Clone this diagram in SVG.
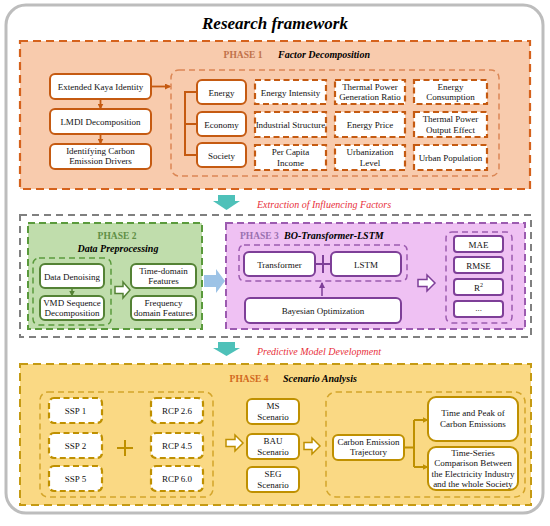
<svg xmlns="http://www.w3.org/2000/svg" width="550" height="526" viewBox="0 0 550 526">
<defs>
<style>
text{font-family:"Liberation Serif","Times New Roman",serif;}
.t{font-size:9px;text-anchor:middle;fill:#111;}
.ph{font-size:9.5px;font-weight:bold;}
.sub{font-size:10px;font-weight:bold;font-style:italic;fill:#000;}
.lbl{font-size:10px;font-style:italic;fill:#E8303A;}
.ob{fill:#fff;stroke:#C55A11;stroke-width:2;}
.od{fill:#fff;stroke:#C55A11;stroke-width:2.2;stroke-dasharray:6 3.5;}
.gb{fill:#fff;stroke:#548235;stroke-width:2;}
.pb{fill:#fff;stroke:#7E3F98;stroke-width:2;}
.yb{fill:#fff;stroke:#BF9000;stroke-width:2;}
.yd{fill:#fff;stroke:#BF9000;stroke-width:2.2;stroke-dasharray:6 3.5;}
.hollow{stroke-width:1.5;fill:#fff;}
.teal{fill:#4EC1B9;}
</style>
<marker id="ao" markerWidth="6" markerHeight="6" refX="5" refY="3" orient="auto" markerUnits="userSpaceOnUse"><path d="M0,0 L6,3 L0,6 z" fill="#C55A11"/></marker>
<marker id="ag" markerWidth="6" markerHeight="6" refX="5" refY="3" orient="auto" markerUnits="userSpaceOnUse"><path d="M0,0 L6,3 L0,6 z" fill="#548235"/></marker>
<marker id="ap" markerWidth="6" markerHeight="6" refX="5" refY="3" orient="auto" markerUnits="userSpaceOnUse"><path d="M0,0 L6,3 L0,6 z" fill="#7E3F98"/></marker>
<marker id="ay" markerWidth="6" markerHeight="6" refX="5" refY="3" orient="auto" markerUnits="userSpaceOnUse"><path d="M0,0 L6,3 L0,6 z" fill="#BF9000"/></marker>
</defs>

<rect x="6" y="5" width="537" height="508" rx="20" fill="#fff" stroke="#BDBDBD" stroke-width="3"/>
<text x="275" y="29" text-anchor="middle" font-size="17" font-weight="bold" font-style="italic" fill="#000">Research framework</text>

<!-- PHASE 1 -->
<g id="phase1">
<rect x="20" y="41" width="510" height="148" fill="#F8CBAD" stroke="#D5621C" stroke-width="2.2" stroke-dasharray="8 5"/>
<text x="243" y="58" class="ph" text-anchor="middle" fill="#C0714A">PHASE 1</text>
<text x="278" y="58" class="sub">Factor Decomposition</text>
<rect x="171" y="70" width="328" height="106" rx="8" fill="none" stroke="#DB8755" stroke-width="1.5" stroke-dasharray="6 4"/>
</g>
<g id="kaya"><rect class="ob" x="50" y="74" width="101" height="25" rx="5"/><text class="t" x="100.5" y="90">Extended Kaya Identity</text></g>
<g id="lmdi"><rect class="ob" x="50" y="109" width="101" height="25" rx="5"/><text class="t" x="100.5" y="125">LMDI Decomposition</text></g>
<g id="drivers"><rect class="ob" x="50" y="144" width="101" height="25" rx="5"/><text class="t" x="100.5" y="153.5">Identifying Carbon</text><text class="t" x="100.5" y="164">Emission Drivers</text></g>
<g id="energy"><rect class="ob" x="197" y="80" width="49" height="24" rx="5"/><text class="t" x="221.5" y="95.5">Energy</text></g>
<g id="economy"><rect class="ob" x="197" y="112" width="49" height="24" rx="5"/><text class="t" x="221.5" y="127.5">Economy</text></g>
<g id="society"><rect class="ob" x="197" y="143" width="49" height="24" rx="5"/><text class="t" x="221.5" y="158.5">Society</text></g>
<g id="f-energy-intensity"><rect class="od" x="255" y="80" width="71" height="24"/><text class="t" x="290.5" y="95.5">Energy Intensity</text></g>
<g id="f-thermal-ratio"><rect class="od" x="335" y="80" width="70" height="24"/><text class="t" x="370" y="89.5">Thermal Power</text><text class="t" x="370" y="100">Generation Ratio</text></g>
<g id="f-energy-consumption"><rect class="od" x="414" y="80" width="73" height="24"/><text class="t" x="450.5" y="89.5">Energy</text><text class="t" x="450.5" y="100">Consumption</text></g>
<g id="f-industrial"><rect class="od" x="255" y="112" width="71" height="25"/><text class="t" x="290.5" y="128">Industrial Structure</text></g>
<g id="f-energy-price"><rect class="od" x="335" y="112" width="70" height="25"/><text class="t" x="370" y="128">Energy Price</text></g>
<g id="f-thermal-output"><rect class="od" x="414" y="112" width="73" height="25"/><text class="t" x="450.5" y="122">Thermal Power</text><text class="t" x="450.5" y="132.5">Output Effect</text></g>
<g id="f-income"><rect class="od" x="255" y="145" width="71" height="25"/><text class="t" x="290.5" y="155">Per Capita</text><text class="t" x="290.5" y="165.5">Income</text></g>
<g id="f-urbanization"><rect class="od" x="335" y="145" width="70" height="25"/><text class="t" x="370" y="155">Urbanization</text><text class="t" x="370" y="165.5">Level</text></g>
<g id="f-urban-pop"><rect class="od" x="414" y="145" width="73" height="25"/><text class="t" x="450.5" y="161">Urban Population</text></g>

<!-- transition 1 -->
<g id="trans1">
<polygon class="teal" points="218,195 235,195 235,201 240,201 226.5,210 213,201 218,201"/>
<text class="lbl" x="257" y="208">Extraction of Influencing Factors</text>
</g>

<!-- middle block -->
<g id="model-block"><rect x="20" y="215" width="511" height="122" fill="none" stroke="#808080" stroke-width="2" stroke-dasharray="7 5"/></g>

<g id="phase2">
<rect x="28" y="223" width="174" height="106" fill="#C0DDAC" stroke="#5A9A3C" stroke-width="2" stroke-dasharray="7 4"/>
<text x="117" y="239" class="ph" text-anchor="middle" fill="#5F8F45">PHASE 2</text>
<text x="118" y="252" class="sub" text-anchor="middle">Data Preprocessing</text>
<rect x="33" y="258" width="78" height="67" rx="6" fill="none" stroke="#5A9A3C" stroke-width="1.5" stroke-dasharray="6 4"/>
</g>
<g id="denoise"><rect class="gb" x="40" y="264" width="64" height="24" rx="5"/><text class="t" x="72" y="279.5">Data Denoising</text></g>
<g id="vmd"><rect class="gb" x="40" y="296" width="64" height="24" rx="5"/><text class="t" x="72" y="305.5">VMD Sequence</text><text class="t" x="72" y="316">Decomposition</text></g>
<g id="time-feat"><rect class="gb" x="131" y="264" width="65" height="24" rx="5"/><text class="t" x="163.5" y="273.5">Time-domain</text><text class="t" x="163.5" y="284">Features</text></g>
<g id="freq-feat"><rect class="gb" x="131" y="296" width="65" height="24" rx="5"/><text class="t" x="163.5" y="305.5">Frequency</text><text class="t" x="163.5" y="316">domain Features</text></g>

<g id="phase3">
<rect x="226" y="223" width="299" height="106" fill="#EFC1F3" stroke="#9C5BB0" stroke-width="2" stroke-dasharray="7 4"/>
<text x="240" y="239" class="ph" fill="#9A70B0">PHASE 3</text>
<text x="284" y="239" class="sub">BO-Transformer-LSTM</text>
<rect x="239" y="245" width="168" height="36" rx="5" fill="none" stroke="#9C5BB0" stroke-width="1.5" stroke-dasharray="6 4"/>
<rect x="446" y="232" width="66" height="91" rx="6" fill="none" stroke="#9C5BB0" stroke-width="1.5" stroke-dasharray="6 4"/>
</g>
<g id="transformer"><rect class="pb" x="244" y="252" width="71" height="24" rx="5"/><text class="t" x="279.5" y="267.5">Transformer</text></g>
<g id="lstm"><rect class="pb" x="331" y="252" width="70" height="24" rx="5"/><text class="t" x="366" y="267.5">LSTM</text></g>
<g id="bayes"><rect class="pb" x="245" y="298" width="156" height="25" rx="5"/><text class="t" x="323" y="314">Bayesian Optimization</text></g>
<g id="mae"><rect class="pb" x="454" y="236" width="49" height="16" rx="3"/><text class="t" x="478.5" y="247.5">MAE</text></g>
<g id="rmse"><rect class="pb" x="454" y="257" width="49" height="16" rx="3"/><text class="t" x="478.5" y="268.5">RMSE</text></g>
<g id="r2"><rect class="pb" x="454" y="279" width="49" height="16" rx="3"/><text class="t" x="478.5" y="290.5">R<tspan font-size="6" dy="-4">2</tspan></text></g>
<g id="etc"><rect class="pb" x="454" y="301" width="49" height="16" rx="3"/><text class="t" x="478.5" y="311">...</text></g>

<!-- transition 2 -->
<g id="trans2">
<polygon class="teal" points="218,342 235,342 235,348 240,348 226.5,356 213,348 218,348"/>
<text class="lbl" x="257" y="355">Predictive Model Development</text>
</g>

<g id="phase4">
<rect x="20" y="364" width="511" height="141" fill="#FAD984" stroke="#C59A13" stroke-width="2" stroke-dasharray="8 5"/>
<text x="249" y="382" class="ph" text-anchor="middle" fill="#D2691E">PHASE 4</text>
<text x="283" y="382" class="sub">Scenario Analysis</text>
<rect x="40" y="392" width="173" height="105" rx="8" fill="none" stroke="#D4A52A" stroke-width="1.5" stroke-dasharray="6 4"/>
<rect x="326" y="392" width="199" height="105" rx="10" fill="none" stroke="#D4A52A" stroke-width="1.5" stroke-dasharray="6 4"/>
</g>
<g id="ssp1"><rect class="yd" x="49" y="398" width="53" height="25" rx="5"/><text class="t" x="75.5" y="414">SSP 1</text></g>
<g id="ssp2"><rect class="yd" x="49" y="433" width="53" height="25" rx="5"/><text class="t" x="75.5" y="449">SSP 2</text></g>
<g id="ssp5"><rect class="yd" x="49" y="466" width="53" height="25" rx="5"/><text class="t" x="75.5" y="482">SSP 5</text></g>
<g id="rcp26"><rect class="yd" x="151" y="398" width="52" height="25" rx="5"/><text class="t" x="177" y="414">RCP 2.6</text></g>
<g id="rcp45"><rect class="yd" x="151" y="433" width="52" height="25" rx="5"/><text class="t" x="177" y="449">RCP 4.5</text></g>
<g id="rcp60"><rect class="yd" x="151" y="466" width="52" height="25" rx="5"/><text class="t" x="177" y="482">RCP 6.0</text></g>
<g id="ms"><rect class="yb" x="247" y="399" width="52" height="25" rx="5"/><text class="t" x="273" y="409">MS</text><text class="t" x="273" y="419.5">Scenario</text></g>
<g id="bau"><rect class="yb" x="247" y="434" width="52" height="25" rx="5"/><text class="t" x="273" y="444">BAU</text><text class="t" x="273" y="454.5">Scenario</text></g>
<g id="seg"><rect class="yb" x="247" y="467" width="52" height="25" rx="5"/><text class="t" x="273" y="477">SEG</text><text class="t" x="273" y="487.5">Scenario</text></g>
<g id="trajectory"><rect class="yb" x="333" y="435" width="71" height="25" rx="5"/><text class="t" x="368.5" y="444.5">Carbon Emission</text><text class="t" x="368.5" y="455">Trajectory</text></g>
<g id="peak"><rect class="yb" x="428" y="397" width="90" height="44" rx="8"/><text class="t" x="473" y="416">Time and Peak of</text><text class="t" x="473" y="427">Carbon Emissions</text></g>
<g id="comparison"><rect class="yb" x="428" y="447" width="90" height="43" rx="8"/><text class="t" x="473" y="455.5">Time-Series</text><text class="t" x="473" y="466">Comparison Between</text><text class="t" x="473" y="476.5">the Electricity Industry</text><text class="t" x="473" y="487">and the whole Society</text></g>

<!-- connectors -->
<g id="connectors" fill="none">
<line x1="151" y1="86.5" x2="170" y2="86.5" stroke="#C55A11" stroke-width="1.8" marker-end="url(#ao)"/>
<line x1="100.5" y1="99" x2="100.5" y2="108.5" stroke="#C55A11" stroke-width="1.8" marker-end="url(#ao)"/>
<line x1="100.5" y1="134" x2="100.5" y2="143.5" stroke="#C55A11" stroke-width="1.8" marker-end="url(#ao)"/>
<path d="M197 92 H185 V155 H197 M185 124 H197" stroke="#C55A11" stroke-width="2"/>
<line x1="72" y1="288" x2="72" y2="295.5" stroke="#548235" stroke-width="1.5" marker-end="url(#ag)"/>
<polygon class="hollow" stroke="#548235" points="115,286.5 123,286.5 123,282 130,290 123,298 123,293.5 115,293.5"/>
<polygon fill="#9DC3E6" points="204,275 216,275 216,269 225,281 216,293 216,287 204,287"/>
<path d="M315 264 H331 M323 255 V273" stroke="#7E3F98" stroke-width="2"/>
<line x1="322" y1="296" x2="322" y2="283" stroke="#7E3F98" stroke-width="1.5" marker-end="url(#ap)"/>
<polygon class="hollow" stroke="#7E3F98" points="418,279.5 427,279.5 427,275 435,283 427,291 427,286.5 418,286.5"/>
<path d="M117 448 H133 M125 440 V456" stroke="#BF9000" stroke-width="2"/>
<polygon class="hollow" stroke="#BF9000" points="226,439.5 235,439.5 235,435 243,443 235,451 235,446.5 226,446.5"/>
<polygon class="hollow" stroke="#BF9000" points="304,442.5 312,442.5 312,438 320,446 312,454 312,449.5 304,449.5"/>
<path d="M404 447.5 H414 M414 420 V467" stroke="#BF9000" stroke-width="2"/>
<line x1="414" y1="420" x2="427.5" y2="420" stroke="#BF9000" stroke-width="2" marker-end="url(#ay)"/>
<line x1="414" y1="467" x2="427.5" y2="467" stroke="#BF9000" stroke-width="2" marker-end="url(#ay)"/>
</g>
</svg>
